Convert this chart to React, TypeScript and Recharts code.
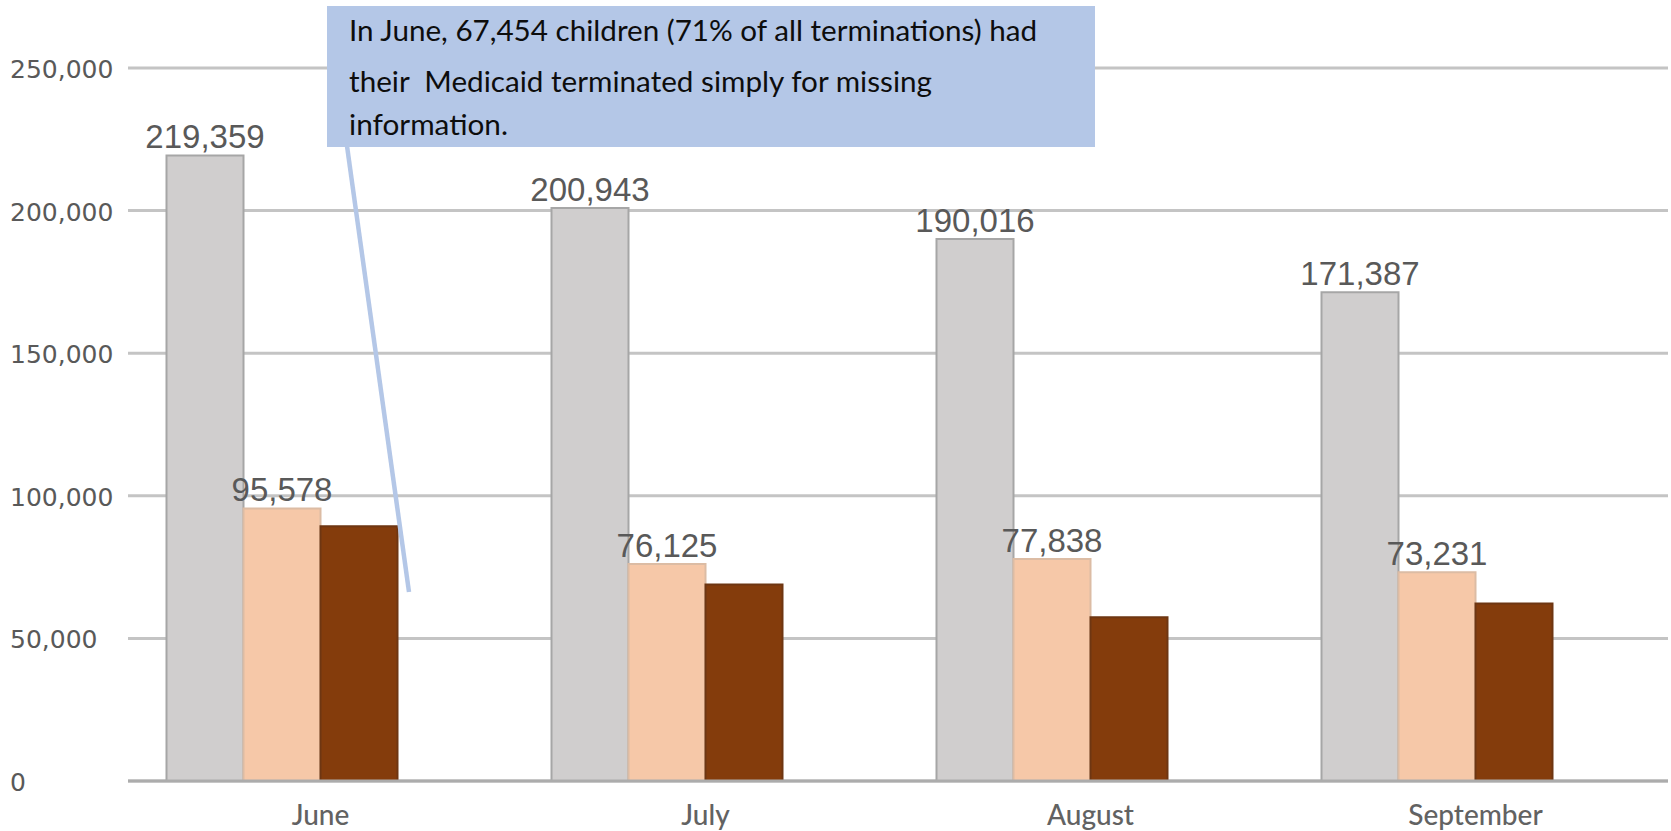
import { BarChart, Bar, XAxis, YAxis, CartesianGrid, LabelList } from "recharts";

const months = ["June", "July", "August", "September"];
const allTerminations = [219359, 200943, 190016, 171387];
const childTerminations = [95578, 76125, 77838, 73231];
const childProcedural = [89300, 68900, 57400, 62200];
const yTicks = [0, 50000, 100000, 150000, 200000, 250000];

const calloutLines = [
  "In June, 67,454 children (71% of all terminations) had",
  "their  Medicaid terminated simply for missing",
  "information.",
];

const GRAY = "#d0cece";
const PEACH = "#f6c8a8";
const BROWN = "#843c0c";
const CALLOUT_BLUE = "#b4c7e7";

const data = months.map((month, i) => ({
  month,
  all: allTerminations[i],
  children: childTerminations[i],
  procedural: childProcedural[i],
}));

const fmt = (v: any) => Number(v).toLocaleString("en-US");

function MonthTick({ x, y, payload }: any) {
  return (
    <text
      x={x}
      y={y}
      dy={44}
      textAnchor="middle"
      fill="#626262"
      fontSize={28}
      fontWeight={500}
      fontFamily="Lato, sans-serif"
    >
      {payload.value}
    </text>
  );
}

function ValueTick({ y, payload }: any) {
  return (
    <text x={10} y={y} dy={10} textAnchor="start" fill="#595959" fontSize={25} fontFamily="DejaVu Sans, sans-serif">
      {fmt(payload.value)}
    </text>
  );
}

export default function App() {
  return (
    <div style={{ position: "absolute", left: 0, top: 0, width: 1671, height: 831, background: "#fff" }}>
      <BarChart
        width={1671}
        height={831}
        data={data}
        margin={{ top: 68, right: 3, left: 0, bottom: 0 }}
        barCategoryGap="10%"
        barGap={0}
      >
        <CartesianGrid vertical={false} stroke="#c4c4c4" strokeWidth={3} />
        <XAxis
          dataKey="month"
          height={50}
          tickLine={false}
          tickSize={0}
          tickMargin={0}
          axisLine={{ stroke: "#acacac", strokeWidth: 3 }}
          tick={<MonthTick />}
          interval={0}
        />
        <YAxis
          width={128}
          domain={[0, 250000]}
          ticks={yTicks}
          axisLine={false}
          tickLine={false}
          tick={<ValueTick />}
          interval={0}
        />
        <Bar dataKey="all" fill={GRAY} stroke="#a6a6a6" strokeWidth={2} isAnimationActive={false}>
          <LabelList
            dataKey="all"
            position="top"
            offset={7}
            formatter={fmt}
            fill="#595959"
            fontSize={33}
            fontFamily="Liberation Sans, Arial, sans-serif"
          />
        </Bar>
        <Bar dataKey="children" fill={PEACH} stroke="#dcbca4" strokeWidth={2} isAnimationActive={false}>
          <LabelList
            dataKey="children"
            position="top"
            offset={7}
            formatter={fmt}
            fill="#595959"
            fontSize={33}
            fontFamily="Liberation Sans, Arial, sans-serif"
          />
        </Bar>
        <Bar dataKey="procedural" fill={BROWN} stroke="#6e3612" strokeWidth={2} isAnimationActive={false} />
        {/* empty fourth slot, keeps the groups left of the month labels like the original */}
        <Bar dataKey="unused" fill="none" isAnimationActive={false} />
      </BarChart>

      <svg
        width={1671}
        height={831}
        style={{ position: "absolute", left: 0, top: 0, pointerEvents: "none" }}
      >
        <line x1={347} y1={146} x2={409} y2={592} stroke={CALLOUT_BLUE} strokeWidth={4.5} />
        <rect x={327} y={6} width={768} height={141} fill={CALLOUT_BLUE} />
        {calloutLines.map((line, i) => (
          <text
            key={i}
            x={349}
            y={[41, 92, 135][i]}
            fontSize={29}
            fill="#0d0d0d"
            fontFamily="Lato, sans-serif"
            style={{ whiteSpace: "pre" }}
            textLength={[688, 583, 159][i]}
            lengthAdjust="spacingAndGlyphs"
          >
            {line}
          </text>
        ))}
      </svg>
    </div>
  );
}
